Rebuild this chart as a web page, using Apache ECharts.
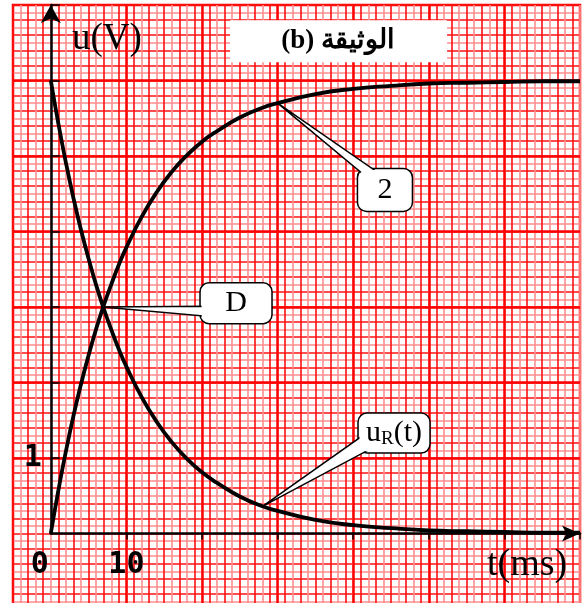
<!DOCTYPE html>
<html>
<head>
<meta charset="utf-8">
<script src="https://cdn.jsdelivr.net/npm/echarts@6/dist/echarts.min.js"></script>
<style>
  html, body { margin: 0; padding: 0; background: #fff; }
  #chart { width: 584px; height: 603px; }
</style>
</head>
<body>
<div id="chart"></div>
<script>
// values (t in ms, u in V)
const times = [0, 1, 2, 3, 4, 5, 6, 7, 8, 9, 10, 12, 14, 16, 18, 20, 22, 25, 28, 30, 35, 40, 45, 50, 55, 60, 65, 70]
const uRise = [0, 0.57, 1.09, 1.56, 1.98, 2.36, 2.71, 3.02, 3.30, 3.56, 3.79, 4.19, 4.52, 4.79, 5.01, 5.19, 5.33, 5.51, 5.64, 5.70, 5.82, 5.89, 5.93, 5.96, 5.97, 5.98, 5.99, 5.99]
const uDecay = [6, 5.43, 4.91, 4.44, 4.02, 3.64, 3.29, 2.98, 2.70, 2.44, 2.21, 1.81, 1.48, 1.21, 0.99, 0.81, 0.67, 0.49, 0.36, 0.30, 0.18, 0.11, 0.07, 0.04, 0.03, 0.02, 0.01, 0.01]
const pointD = [6.9, 3.0]

const majorT = [10, 20, 30, 40, 50, 60]
const majorU = [1, 2, 3, 4, 5, 6]
const tTicks = [10, 20, 30, 40, 50, 60, 70]
const tLabels = [0, 10]
const uTicks = [1, 2, 3, 4, 5, 6, 7]
const uLabels = [1]

const chart = echarts.init(document.getElementById('chart'))

// paper: -5..70 ms, -1..7 V ; plot area: 0..70 ms, 0..7 V on the same scale
const msPx = 567 / 75
const vPx = 604 / 8

const paperLine = { show: true, lineStyle: { color: ['#ff1010', '#ff8e8e'], width: 1.6 } }
const paperX = { gridIndex: 0, type: 'value', min: -5, max: 70, interval: 1, axisLine: { show: false }, axisTick: { show: false }, axisLabel: { show: false }, splitLine: paperLine }
const paperY = { gridIndex: 0, type: 'value', min: -1, max: 7, interval: 0.1, axisLine: { show: false }, axisTick: { show: false }, axisLabel: { show: false }, splitLine: paperLine }

const numFont = { fontFamily: 'DejaVu Sans Mono', fontWeight: 'bold', fontSize: 30, color: '#000' }

const mainX = {
  gridIndex: 1, type: 'value', min: 0, max: 70, interval: 10, z: 5,
  axisLine: { symbol: ['none', 'arrow'], symbolSize: [12, 18], lineStyle: { color: '#000', width: 2.5 } },
  axisTick: { customValues: tTicks, length: 6, lineStyle: { color: '#000', width: 1.5 } },
  axisLabel: Object.assign({
    customValues: tLabels, margin: 17,
    formatter: v => v === 0 ? '{z|0}' : String(v),
    rich: { z: Object.assign({ padding: [0, 22, 0, 0] }, numFont) }
  }, numFont),
  splitLine: { show: false }
}
const mainY = {
  gridIndex: 1, type: 'value', min: 0, max: 7, interval: 1, z: 5,
  axisLine: { symbol: ['none', 'arrow'], symbolSize: [15, 18], lineStyle: { color: '#000', width: 2.5 } },
  axisTick: { customValues: uTicks, inside: true, length: 9, lineStyle: { color: '#000', width: 1.5 } },
  axisLabel: Object.assign({ customValues: uLabels, margin: 9 }, numFont),
  splitLine: { show: false }
}

const curve = (name, ys) => ({
  name, type: 'line', smooth: true, showSymbol: false, z: 6,
  xAxisIndex: 1, yAxisIndex: 1,
  data: times.map((t, i) => [t, ys[i]]),
  lineStyle: { color: '#000', width: 3.8 }
})

chart.setOption({
  animation: false,
  backgroundColor: '#fff',
  grid: [
    { left: 13, top: 5, width: 567, height: 604, outerBoundsMode: 'none', containLabel: false, show: true, borderColor: '#ff0000', borderWidth: 2.5, backgroundColor: '#fff' },
    { left: 13 + 5 * msPx, top: 5, width: 70 * msPx, height: 7 * vPx, outerBoundsMode: 'none', containLabel: false }
  ],
  xAxis: [paperX, mainX],
  yAxis: [paperY, mainY],
  series: [
    {
      type: 'line', data: [], z: 3, silent: true, xAxisIndex: 0, yAxisIndex: 0,
      markLine: {
        silent: true, symbol: 'none', label: { show: false },
        lineStyle: { color: '#ff0000', width: 2.5, type: 'solid' },
        data: majorT.map(v => ({ xAxis: v })).concat(majorU.map(v => ({ yAxis: v })))
      }
    },
    curve('uC', uRise),
    curve('uR', uDecay)
  ]
})

const px = p => chart.convertToPixel({ gridIndex: 1 }, p)
const i30 = times.indexOf(30)
const i28 = times.indexOf(28)
const callouts = [
  { text: 'D', anchor: pointD, box: [24.5, 3.05], size: [72, 41], base: [[-30, 3], [-30, 13]] },
  { text: '2', anchor: [times[i30], uRise[i30]], box: [44.2, 4.55], size: [55, 43], base: [[-22, -16], [-5, -16]] },
  { text: '{a|u}{s|R}{a|(t)}', anchor: [times[i28], uDecay[i28]], box: [45.4, 1.33], size: [72, 40], base: [[-32, 3], [-22, 15]] }
]

const graphic = []
callouts.forEach((c, k) => {
  const p = px(c.anchor)
  const b = px(c.box)
  const w = c.size[0]
  const h = c.size[1]
  const x0 = b[0] - w / 2
  const y0 = b[1] - h / 2
  const z = 100 + k * 10
  graphic.push(
    { type: 'rect', z, shape: { x: x0, y: y0, width: w, height: h, r: 9 }, style: { fill: '#fff', stroke: '#000', lineWidth: 1.5 } },
    { type: 'polygon', z: z + 1, shape: { points: [p, [b[0] + c.base[0][0], b[1] + c.base[0][1]], [b[0] + c.base[1][0], b[1] + c.base[1][1]]] }, style: { fill: '#fff', stroke: '#000', lineWidth: 1.5 } },
    { type: 'rect', z: z + 2, shape: { x: x0 + 1.5, y: y0 + 1.5, width: w - 3, height: h - 3, r: 8 }, style: { fill: '#fff' } },
    {
      type: 'text', z: z + 3, x: b[0], y: b[1],
      style: {
        text: c.text, fill: '#000', fontFamily: 'Liberation Serif', fontSize: 30, align: 'center', verticalAlign: 'middle',
        rich: {
          a: { fontFamily: 'Liberation Serif', fontSize: 30, fill: '#000' },
          s: { fontFamily: 'Liberation Serif', fontSize: 19, fill: '#000', padding: [12, 0, 0, 0] }
        }
      }
    }
  )
})

// title block and axis names
const tb = px([38.0, 6.52])
graphic.push(
  { type: 'rect', z: 90, shape: { x: tb[0] - 108, y: tb[1] - 21, width: 217, height: 42 }, style: { fill: '#fff' } },
  { type: 'text', z: 91, x: tb[0], y: tb[1], style: { text: '(b) الوثيقة', fill: '#000', fontFamily: 'Liberation Serif', fontWeight: 'bold', fontSize: 27, align: 'center', verticalAlign: 'middle' } },
  { type: 'text', z: 91, x: 72, y: 39, style: { text: 'u(V)', fill: '#000', fontFamily: 'Liberation Serif', fontSize: 37, align: 'left', verticalAlign: 'middle' } },
  { type: 'text', z: 91, x: 487, y: 565, style: { text: 't(ms)', fill: '#000', fontFamily: 'Liberation Serif', fontSize: 38, align: 'left', verticalAlign: 'middle' } }
)
chart.setOption({ graphic })
</script>
</body>
</html>
